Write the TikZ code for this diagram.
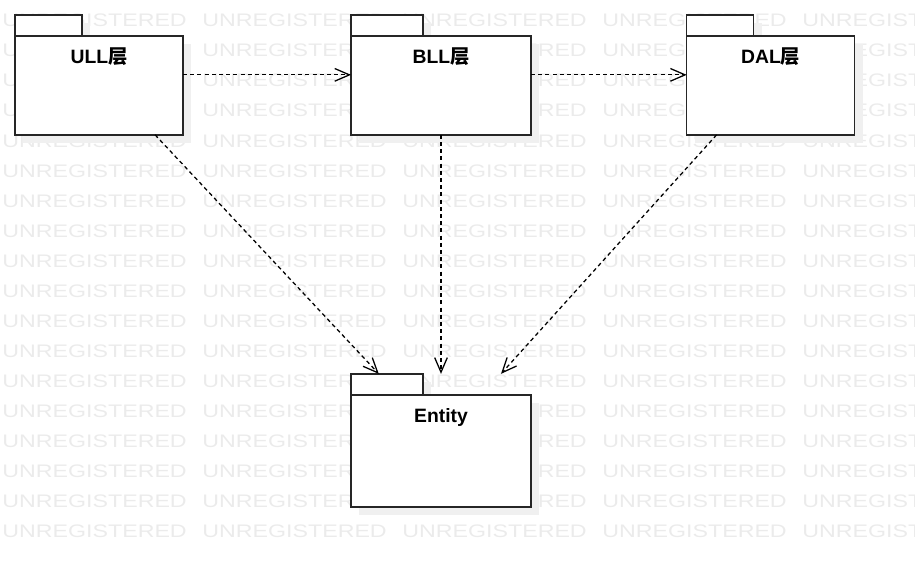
\documentclass[tikz,border=0pt]{standalone}
\usepackage{fontspec}
\setmainfont{Liberation Sans}
\newfontfamily\cjk{Noto Sans CJK SC}
\usetikzlibrary{arrows.meta, positioning}
\newcommand{\cn}[1]{{\cjk #1}}

\begin{document}
\begin{tikzpicture}[
                x = 0.75pt, y = -0.75pt, % one unit is one pixel
                > = {Straight Barb[length=11pt, width=9.5pt]}, % open arrow head
                dep/.style = {->, line width=0.95pt, dash pattern=on 3pt off 2.4pt},
                font=\bfseries\fontsize{14.5}{17}\selectfont
                ]
                \tikzstyle{pkg}=[
                    rectangle,
                    inner sep = 0pt,
                    outer sep = 0pt,
                    minimum width = 126pt,
                    minimum height = 90pt,
                ]
                \tikzstyle{pkgline}=[draw = black!85, line width = 1pt, fill = white]
                \tikzstyle{pkgshadow}=[fill = black!6]
                \tikzstyle{watermark}=[
                    inner sep = 0pt,
                    anchor = base west,
                    xscale = 1.28,
                    text = black!8,
                    font = \normalfont\fontsize{13.6}{16}\selectfont,
                ]
                \useasboundingbox (0,0) rectangle (915,567);

                % watermark
                \foreach \row in {0,...,17}
                    \foreach \col in {0,...,4}
                        \node[watermark] at (2+200*\col, 27+30*\row) {UNREGISTERED};

                \node[pkg] (ull) at (99,74.85) {};
                \node[pkg, minimum width=135pt] (bll) [right=126pt of ull] {};
                \node[pkg] (dal) [right=116.75pt of bll] {};
                \node[pkg, minimum width=135pt, minimum height=99.75pt] (ent) [below=179.25pt of bll] {};

                \foreach \n/\tw/\title in {ull/50.25pt/ULL\cn{层}, bll/54pt/BLL\cn{层},
                                           dal/50.25pt/DAL\cn{层}, ent/54pt/Entity} {
                    \fill[pkgshadow] ([xshift=6pt, yshift=-6pt]\n.north west)
                        rectangle ([xshift=\tw+6pt, yshift=-21.75pt]\n.north west);
                    \fill[pkgshadow] ([xshift=6pt, yshift=-21.75pt]\n.north west)
                        rectangle ([xshift=6pt, yshift=-6pt]\n.south east);
                    \draw[pkgline] ([yshift=-15.75pt]\n.north west) rectangle (\n.south east);
                    \draw[pkgline] (\n.north west) rectangle ([xshift=\tw, yshift=-15.75pt]\n.north west);
                    \node[inner sep=0pt, anchor=base] (\n-title) at ([yshift=-36.5pt]\n.north) {\title};
                }

                \path[dep] (ull) edge (bll);
                \path[dep] (bll) edge (dal);
                \path[dep] (ull) edge (ent);
                \path[dep] (bll) edge (ent);
                \path[dep] (dal) edge (ent);
            \end{tikzpicture}
\end{document}
